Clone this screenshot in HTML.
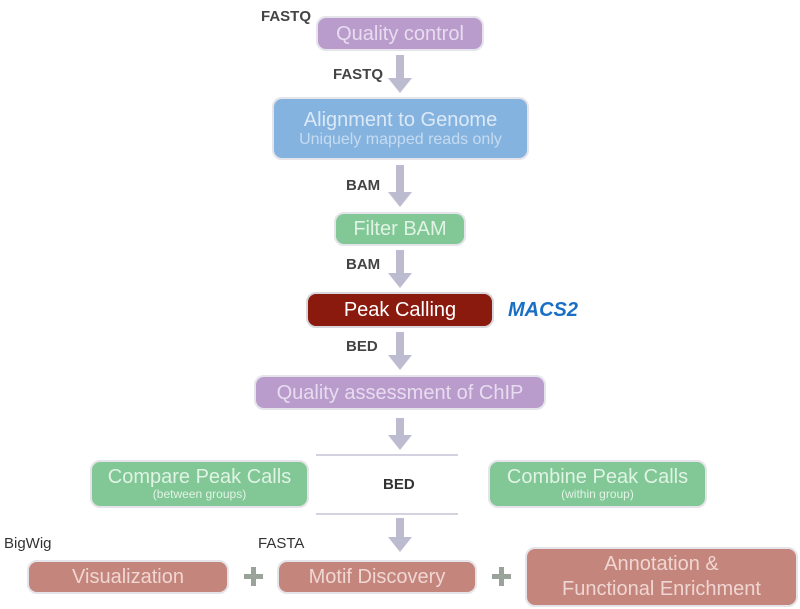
<!DOCTYPE html><html><head><style>
body{margin:0;width:800px;height:609px;background:#fff;position:relative;font-family:"Liberation Sans",sans-serif;overflow:hidden}
.b{position:absolute;box-sizing:border-box;border:2px solid #e4e4ea;border-radius:10px;display:flex;flex-direction:column;align-items:center;justify-content:center;text-align:center;line-height:1.1}
.p{background:#b99ccb;color:#e8dcf0;font-size:20px}
.bl{background:#85b3df;color:#dbe9f7;font-size:20px}
.g{background:#82c796;color:#e0f3e5;font-size:20px}
.r{background:#c4857c;color:#f0d6d2;font-size:20px}
.l{position:absolute;font-size:15px;font-weight:bold;color:#444}
.s{font-size:16px;opacity:.75}
.xs{font-size:12px}
</style></head><body>
<svg width="800" height="609" style="position:absolute;left:0;top:0">
<g fill="#bdbbd0">
<rect x="396" y="55" width="8" height="25"/><polygon points="388,78 412,78 400,93"/>
<rect x="396" y="165" width="8" height="29"/><polygon points="388,192 412,192 400,207"/>
<rect x="396" y="250" width="8" height="25"/><polygon points="388,273 412,273 400,288"/>
<rect x="396" y="332" width="8" height="25"/><polygon points="388,355 412,355 400,370"/>
<rect x="396" y="418" width="8" height="19"/><polygon points="388,435 412,435 400,450"/>
<rect x="396" y="518" width="8" height="21"/><polygon points="388,537 412,537 400,552"/>
</g>
<line x1="316" y1="455" x2="458" y2="455" stroke="#c4c3d6" stroke-width="1.5"/>
<line x1="316" y1="514" x2="458" y2="514" stroke="#c4c3d6" stroke-width="1.5"/>
<g fill="#9aa39a"><rect x="244" y="574" width="19" height="5"/><rect x="251" y="567" width="5" height="19"/>
<rect x="492" y="574" width="19" height="5"/><rect x="499" y="567" width="5" height="19"/></g>
</svg>
<div class="l" style="left:261px;top:8px">FASTQ</div>
<div class="b p" style="left:316px;top:16px;width:168px;height:35px">Quality control</div>
<div class="l" style="left:333px;top:66px">FASTQ</div>
<div class="b bl" style="left:272px;top:97px;width:257px;height:63px">Alignment to Genome<div class="s">Uniquely mapped reads only</div></div>
<div class="l" style="left:346px;top:177px">BAM</div>
<div class="b g" style="left:334px;top:212px;width:132px;height:34px">Filter BAM</div>
<div class="l" style="left:346px;top:256px">BAM</div>
<div class="b" style="left:306px;top:292px;width:188px;height:36px;background:#8b1a0e;color:#fff;font-size:20px;border-color:#d8d8dc">Peak Calling</div>
<div style="position:absolute;left:508px;top:299px;color:#1a6fc4;font-weight:bold;font-style:italic;font-size:20px">MACS2</div>
<div class="l" style="left:346px;top:338px">BED</div>
<div class="b p" style="left:254px;top:375px;width:292px;height:35px">Quality assessment of ChIP</div>
<div class="b g" style="left:90px;top:460px;width:219px;height:48px">Compare Peak Calls<div class="xs">(between groups)</div></div>
<div class="l" style="left:383px;top:476px;color:#333">BED</div>
<div class="b g" style="left:488px;top:460px;width:219px;height:48px">Combine Peak Calls<div class="xs">(within group)</div></div>
<div class="l" style="left:4px;top:535px;font-weight:normal;color:#333">BigWig</div>
<div class="l" style="left:258px;top:535px;font-weight:normal;color:#333">FASTA</div>
<div class="b r" style="left:27px;top:560px;width:202px;height:34px">Visualization</div>
<div class="b r" style="left:277px;top:560px;width:200px;height:34px">Motif Discovery</div>
<div class="b r" style="left:525px;top:547px;width:273px;height:60px;line-height:1.25">Annotation &amp;<br>Functional Enrichment</div>
</body></html>
